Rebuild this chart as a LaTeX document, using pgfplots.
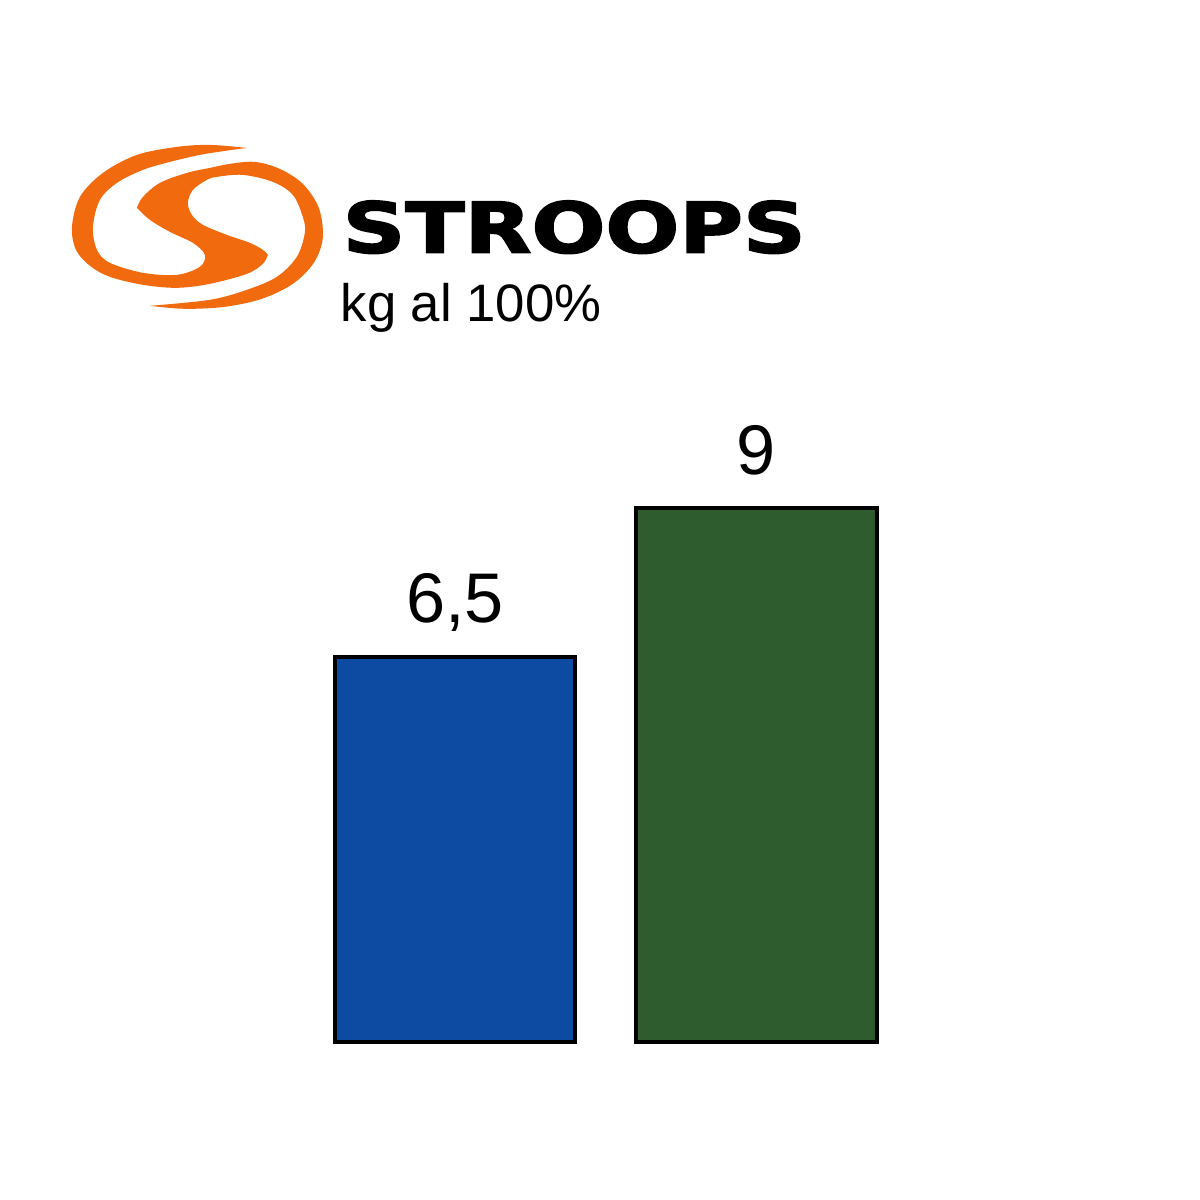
\documentclass[border=0pt]{standalone}
\usepackage{fontspec}
\setmainfont{Liberation Sans}
\newfontfamily\logofont{DejaVu Sans}[BoldFeatures={FakeBold=2.2}]
\usepackage{pgfplots}
\pgfplotsset{compat=1.18}
\definecolor{logoorange}{RGB}{242,106,14}
\definecolor{barblue}{RGB}{13,74,161}
\definecolor{bargreen}{RGB}{46,92,46}
\begin{document}
\begin{tikzpicture}
\useasboundingbox (0,0) rectangle (12cm,12cm);
% logo (pixel coordinates, y downwards)
\begin{scope}[shift={(0,12cm)}, x={(0.01cm,0)}, y={(0,-0.01cm)}]
\fill[logoorange]
 plot[smooth, tension=0.55] coordinates {(247,148) (210,145) (177,147) (137,155) (103,173) (80,197) (72,227) (76,250) (90,266) (110,277) (143,285) (177,288) (210,284) (247,274) (263,264) (268,255)}
 -- plot[smooth, tension=0.55] coordinates {(268,255) (263,250) (250,243) (227,235) (203,225) (192,215) (188,203) (193,190) (207,180) (217,177) (243,175) (273,182) (293,195) (303,217) (305,233) (297,257) (277,277) (247,290) (210,300) (150,306)}
 -- plot[smooth, tension=0.55] coordinates {(150,306) (185,309) (225,307) (262,299) (293,284) (314,263) (323,238) (319,208) (303,184) (280,169) (255,162) (230,164) (210,168) (187,173) (160,183) (143,197) (137,208)}
 -- plot[smooth, tension=0.55] coordinates {(137,208) (150,220) (170,232) (193,243) (205,255) (200,267) (177,275) (143,273) (110,263) (97,250) (93,227) (100,200) (117,183) (143,170) (170,162) (200,155) (225,151) (247,148)}
 -- cycle;
\end{scope}
\node[anchor=north west, inner sep=0pt] at (3.42cm,10.0cm) {\resizebox{4.63cm}{0.52cm}{\logofont\bfseries STROOPS}};
\node[anchor=base west, inner sep=0pt, font=\fontsize{15}{18}\selectfont] at (3.40cm,8.78cm) {kg al 100\%};
\begin{axis}[
  at={(3.0425cm,1.58cm)}, anchor=south west,
  scale only axis, width=6.03cm, height=5.93cm,
  xmin=-0.5, xmax=1.5, ymin=0, ymax=10,
  axis lines=none, enlargelimits=false, clip=false,
  /pgf/number format/use comma,
  /pgf/number format/assume math mode=true,
  nodes near coords,
  every node near coord/.style={anchor=base, yshift=0.34cm, font=\fontsize{20}{24}\selectfont, text=black},
]
\addplot[ybar, bar width=2.40cm, bar shift=0pt, fill=barblue, draw=black, line width=0.04cm] coordinates {(0,6.5)};
\addplot[ybar, bar width=2.41cm, bar shift=0pt, fill=bargreen, draw=black, line width=0.04cm] coordinates {(1,9)};
\end{axis}
\end{tikzpicture}
\end{document}
